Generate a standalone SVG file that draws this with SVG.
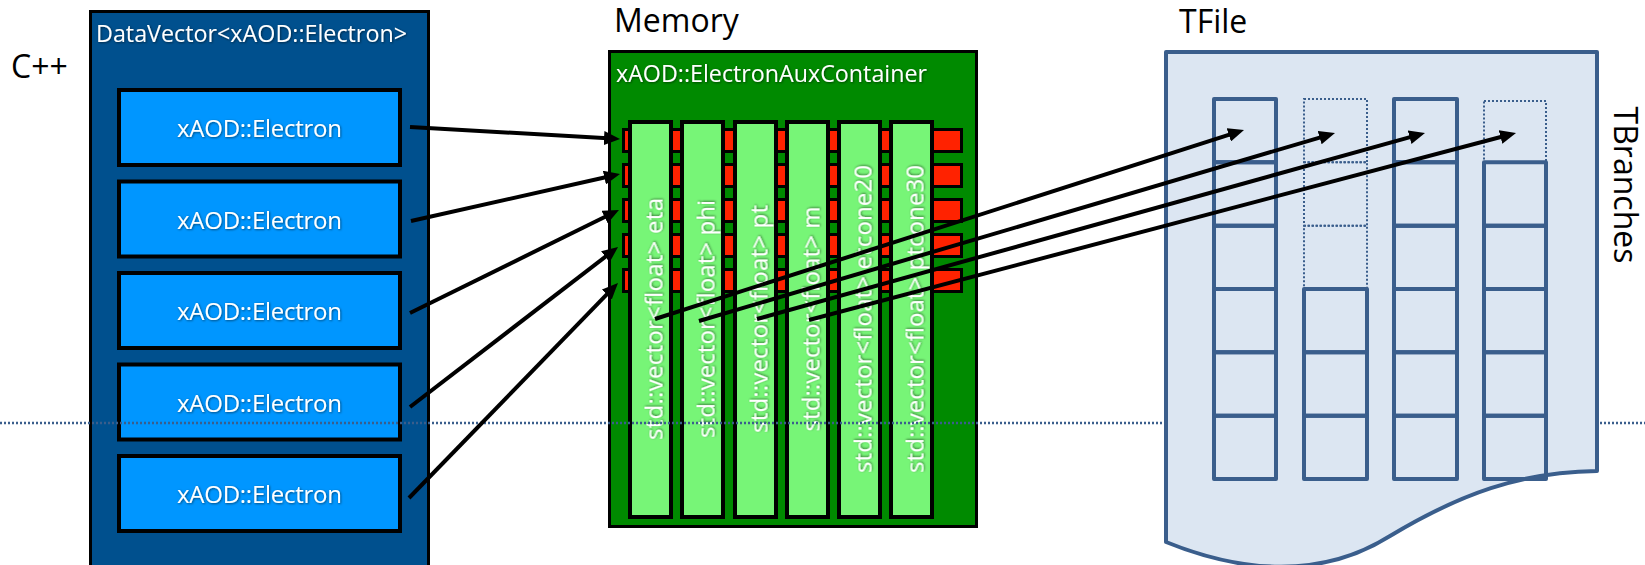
<svg xmlns="http://www.w3.org/2000/svg" width="1645" height="565" viewBox="0 0 1645 565">
  <defs>
    <style>
      .big { font-family: "Open Sans", "Liberation Sans", sans-serif; font-size: 32px; fill: #000; }
      .wt { font-family: "Open Sans", "Liberation Sans", sans-serif; fill: #fff; filter: url(#glow); }
      .elbox { fill: #0096FF; stroke: #000; stroke-width: 4; }
      .strip { fill: #FF2200; stroke: #000; stroke-width: 3; }
      .vec { fill: #77F577; stroke: #000; stroke-width: 4; }
      .cell { fill: none; stroke: #3A5E8C; stroke-width: 4; stroke-linejoin: round; }
      .ghost { fill: none; stroke: #3A5E8C; stroke-width: 2; stroke-dasharray: 2 2; }
      .conn { stroke: #000; stroke-width: 4; fill: none; marker-end: url(#head); }
    </style>
    <marker id="head" viewBox="0 0 16 14" markerUnits="userSpaceOnUse" markerWidth="16" markerHeight="14" refX="8" refY="7" orient="auto">
      <path d="M0,0 L16,7 L0,14 Z" fill="#000"/>
    </marker>
    <filter id="glow" x="-10%" y="-30%" width="120%" height="160%">
      <feDropShadow dx="0.8" dy="0.8" stdDeviation="0.8" flood-color="#000" flood-opacity="0.55"/>
    </filter>
  </defs>

  <g id="cpp-label">
    <text class="big" x="11" y="78">C++</text>
  </g>

  <!-- DataVector container with its five elements -->
  <g id="datavector">
    <rect x="90.5" y="11.5" width="338" height="600" fill="#00508E" stroke="#000" stroke-width="3"/>
    <text class="wt" x="96" y="42" font-size="23.5" textLength="311" lengthAdjust="spacingAndGlyphs">DataVector&lt;xAOD::Electron&gt;</text>
  </g>
  <g id="electron-1">
    <rect class="elbox" x="119" y="90" width="281" height="75"/>
    <text class="wt" x="259.5" y="137" font-size="24" text-anchor="middle" textLength="165">xAOD::Electron</text>
  </g>
  <g id="electron-2">
    <rect class="elbox" x="119" y="181.5" width="281" height="75"/>
    <text class="wt" x="259.5" y="228.5" font-size="24" text-anchor="middle" textLength="165">xAOD::Electron</text>
  </g>
  <g id="electron-3">
    <rect class="elbox" x="119" y="273" width="281" height="75"/>
    <text class="wt" x="259.5" y="320" font-size="24" text-anchor="middle" textLength="165">xAOD::Electron</text>
  </g>
  <g id="electron-4">
    <rect class="elbox" x="119" y="364.5" width="281" height="75"/>
    <text class="wt" x="259.5" y="411.5" font-size="24" text-anchor="middle" textLength="165">xAOD::Electron</text>
  </g>
  <g id="electron-5">
    <rect class="elbox" x="119" y="456" width="281" height="75"/>
    <text class="wt" x="259.5" y="503" font-size="24" text-anchor="middle" textLength="165">xAOD::Electron</text>
  </g>

  <g id="memory-label">
    <text class="big" x="614" y="32">Memory</text>
  </g>

  <!-- Auxiliary store: one red slot row per element, one vector per variable -->
  <g id="aux-container">
    <rect x="609.5" y="51.5" width="367" height="475" fill="#008A00" stroke="#000" stroke-width="3"/>
    <text class="wt" x="616" y="82" font-size="23.5" textLength="311" lengthAdjust="spacingAndGlyphs">xAOD::ElectronAuxContainer</text>
    <rect class="strip" x="623.5" y="129.5" width="338" height="22"/>
    <rect class="strip" x="623.5" y="164.5" width="338" height="22"/>
    <rect class="strip" x="623.5" y="199.5" width="338" height="22"/>
    <rect class="strip" x="623.5" y="234.5" width="338" height="22"/>
    <rect class="strip" x="623.5" y="269.5" width="338" height="22"/>
  </g>
  <g id="vec-eta">
    <rect class="vec" x="630" y="122" width="41" height="395"/>
    <text class="wt" font-size="24" text-anchor="middle" transform="translate(662.5,319) rotate(-90)" textLength="242">std::vector&lt;float&gt; eta</text>
  </g>
  <g id="vec-phi">
    <rect class="vec" x="682" y="122" width="41" height="395"/>
    <text class="wt" font-size="24" text-anchor="middle" transform="translate(714.5,319) rotate(-90)" textLength="238">std::vector&lt;float&gt; phi</text>
  </g>
  <g id="vec-pt">
    <rect class="vec" x="735" y="122" width="41" height="395"/>
    <text class="wt" font-size="24" text-anchor="middle" transform="translate(767.5,319) rotate(-90)" textLength="228">std::vector&lt;float&gt; pt</text>
  </g>
  <g id="vec-m">
    <rect class="vec" x="787" y="122" width="41" height="395"/>
    <text class="wt" font-size="24" text-anchor="middle" transform="translate(819.5,319) rotate(-90)" textLength="225">std::vector&lt;float&gt; m</text>
  </g>
  <g id="vec-etcone20">
    <rect class="vec" x="839" y="122" width="41" height="395"/>
    <text class="wt" font-size="24" text-anchor="middle" transform="translate(871.5,319) rotate(-90)" textLength="308">std::vector&lt;float&gt; etcone20</text>
  </g>
  <g id="vec-ptcone30">
    <rect class="vec" x="891" y="122" width="41" height="395"/>
    <text class="wt" font-size="24" text-anchor="middle" transform="translate(923.5,319) rotate(-90)" textLength="308">std::vector&lt;float&gt; ptcone30</text>
  </g>

  <!-- boundary between the transient and persistent sides -->
  <g id="divider">
    <line x1="0" y1="423" x2="1645" y2="423" stroke="#3A5E8C" stroke-width="2.5" stroke-dasharray="2 2"/>
  </g>

  <g id="tfile">
    <text class="big" x="1179" y="33">TFile</text>
    <path d="M1166,52 H1597 V471 C1520,472 1460,494 1390,536 C1320,580 1240,572 1166,542 Z" fill="#DCE6F2" stroke="#3A5E8C" stroke-width="4" stroke-linejoin="round"/>
    <text class="big" transform="translate(1614,185) rotate(90)" text-anchor="middle">TBranches</text>
  </g>
  <g id="branch-1">
    <rect class="cell" x="1214" y="99" width="62" height="63.3"/>
    <rect class="cell" x="1214" y="162.3" width="62" height="63.4"/>
    <rect class="cell" x="1214" y="225.7" width="62" height="63.3"/>
    <rect class="cell" x="1214" y="289" width="62" height="63.3"/>
    <rect class="cell" x="1214" y="352.3" width="62" height="63.4"/>
    <rect class="cell" x="1214" y="415.7" width="62" height="63.3"/>
  </g>
  <g id="branch-2">
    <rect class="ghost" x="1304" y="99" width="63" height="63.3"/>
    <rect class="ghost" x="1304" y="162.3" width="63" height="63.4"/>
    <rect class="ghost" x="1304" y="225.7" width="63" height="63.3"/>
    <rect class="cell" x="1304" y="289" width="63" height="63.3"/>
    <rect class="cell" x="1304" y="352.3" width="63" height="63.4"/>
    <rect class="cell" x="1304" y="415.7" width="63" height="63.3"/>
  </g>
  <g id="branch-3">
    <rect class="cell" x="1394" y="99" width="63" height="63.3"/>
    <rect class="cell" x="1394" y="162.3" width="63" height="63.4"/>
    <rect class="cell" x="1394" y="225.7" width="63" height="63.3"/>
    <rect class="cell" x="1394" y="289" width="63" height="63.3"/>
    <rect class="cell" x="1394" y="352.3" width="63" height="63.4"/>
    <rect class="cell" x="1394" y="415.7" width="63" height="63.3"/>
  </g>
  <g id="branch-4">
    <rect class="ghost" x="1484" y="101" width="62" height="61.3"/>
    <rect class="cell" x="1484" y="162.3" width="62" height="63.4"/>
    <rect class="cell" x="1484" y="225.7" width="62" height="63.3"/>
    <rect class="cell" x="1484" y="289" width="62" height="63.3"/>
    <rect class="cell" x="1484" y="352.3" width="62" height="63.4"/>
    <rect class="cell" x="1484" y="415.7" width="62" height="63.3"/>
  </g>

  <g id="connectors">
    <line class="conn" x1="410" y1="127" x2="612" y2="138.5"/>
    <line class="conn" x1="411" y1="221" x2="612.2" y2="175.8"/>
    <line class="conn" x1="410" y1="313" x2="611.8" y2="213.5"/>
    <line class="conn" x1="410" y1="407" x2="611.7" y2="251.9"/>
    <line class="conn" x1="409" y1="498" x2="612.4" y2="288.7"/>
    <line class="conn" x1="655" y1="319" x2="1236.4" y2="132.4"/>
    <line class="conn" x1="699" y1="321" x2="1327.3" y2="135.3"/>
    <line class="conn" x1="757" y1="319" x2="1417.3" y2="135.1"/>
    <line class="conn" x1="809" y1="320" x2="1508.3" y2="135"/>
  </g>
</svg>
